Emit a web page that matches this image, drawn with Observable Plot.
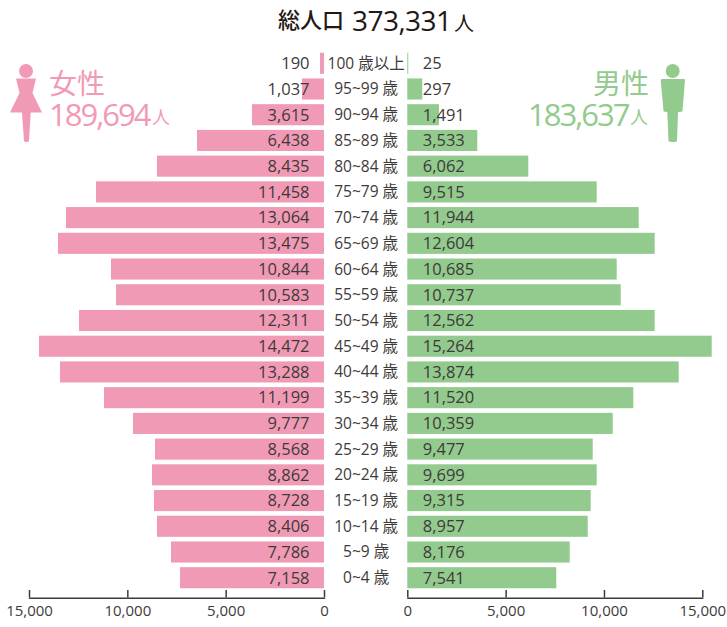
<!DOCTYPE html>
<html lang="ja">
<head>
<meta charset="utf-8">
<script src="https://cdn.jsdelivr.net/npm/d3@7"></script>
<script src="https://cdn.jsdelivr.net/npm/@observablehq/plot@0.6"></script>
<style>
html,body{margin:0;padding:0;background:#fff;}
#wrap{position:relative;width:727px;height:627px;overflow:hidden;font-family:"Open Sans","Noto Sans CJK JP",sans-serif;}
#wrap>svg{position:absolute;left:0;top:0;}
#chart svg{position:absolute;left:0;top:0;}
.t{position:absolute;white-space:nowrap;line-height:1;}
.cjk{font-family:"Noto Sans CJK JP",sans-serif;}
</style>
</head>
<body>
<div id="wrap">
<div id="chart"></div>
<div class="t cjk" style="left:278px;top:7px;color:#231815;font-size:22px;font-weight:500">総人口</div>
<div class="t" style="left:352px;top:6px;color:#231815;font-size:28px;letter-spacing:-.55px">373,331</div>
<div class="t cjk" style="left:454px;top:13px;color:#231815;font-size:20px">人</div>
<div class="t cjk" style="left:49px;top:68px;color:#f19ab5;font-size:28px">女性</div>
<div class="t" style="left:49px;top:99px;color:#f19ab5;font-size:31px;letter-spacing:-2px">189,694</div>
<div class="t cjk" style="left:152px;top:107px;color:#f19ab5;font-size:18px">人</div>
<div class="t cjk" style="left:593px;top:68px;color:#92cb8d;font-size:28px">男性</div>
<div class="t" style="left:528px;top:99px;color:#92cb8d;font-size:31px;letter-spacing:-2px">183,637</div>
<div class="t cjk" style="left:630px;top:107px;color:#92cb8d;font-size:18px">人</div>
<svg width="727" height="627" viewBox="0 0 727 627" style="pointer-events:none">
<circle cx="26" cy="71" r="7" fill="#f19ab5"/>
<path d="M16 78.5 H36 L32.5 93 L42 112.5 H30.7 L29 141 Q28.5 142 26.5 142 Q24.5 142 24 141 L22 112.5 H10 L19.5 93 Z" fill="#f19ab5"/>
<circle cx="672.7" cy="71" r="7" fill="#92cb8d"/>
<path d="M662 79 H684 Q685 79 685 80 L682.5 111 Q682 112 678 112 L677 141 Q676.5 142 672.7 142 Q669 142 668.5 141 L667.3 112 Q664 112 663.5 111 L660.7 80 Q660.7 79 662 79 Z" fill="#92cb8d"/>
</svg>
</div>
<script>
const ages = ["100 歳以上","95~99 歳","90~94 歳","85~89 歳","80~84 歳","75~79 歳","70~74 歳","65~69 歳","60~64 歳","55~59 歳","50~54 歳","45~49 歳","40~44 歳","35~39 歳","30~34 歳","25~29 歳","20~24 歳","15~19 歳","10~14 歳","5~9 歳","0~4 歳"];
// Printed values
const female = [190,1037,3615,6438,8435,11458,13064,13475,10844,10583,12311,14472,13288,11199,9777,8568,8862,8728,8406,7786,7158];
const male = [25,297,1491,3533,6062,9515,11944,12604,10685,10737,12562,15264,13874,11520,10359,9477,9699,9315,8957,8176,7541];
// Bar lengths as drawn in the reference, which differ slightly from the printed values
const femaleBarLength = [203,1118,3661,6458,8492,11593,13118,13525,10830,10576,12458,14491,13424,11186,9712,8593,8746,8644,8492,7780,7322];
const maleBarLength = [50,760,1610,3559,6152,9630,11766,12580,10647,10851,12580,15478,13800,11491,10444,9427,9630,9325,9173,8258,7576];
const axisTicks = [0,5000,10000,15000];
const gap = 4235; // centre gutter, in population units on the shared x scale
const fmt = d3.format(",");
const rows = ages.map((age,i)=>({age,f:female[i],m:male[i],fb:femaleBarLength[i],mb:maleBarLength[i]}));
const pink="#f19ab5", green="#92cb8d", ink="#3e3a39";
const last = ages[ages.length-1];
const sides = [[-1,0],[1,gap]];
const plot = Plot.plot({
  width:727,height:627,
  marginLeft:29,marginRight:24.7,marginTop:48,marginBottom:29.5,
  style:{fontFamily:'"Open Sans","Noto Sans CJK JP",sans-serif',background:"transparent"},
  x:{domain:[-15000,15000+gap],axis:null},
  y:{domain:ages,padding:0.18,axis:null,range:[48.1,592.9],round:false},
  marks:[
    Plot.barX(rows,{y:"age",x1:0,x2:d=>-d.fb,fill:pink}),
    Plot.barX(rows,{y:"age",x1:gap,x2:d=>gap+d.mb,fill:green}),
    Plot.text(rows,{y:"age",x:0,dx:-15,text:d=>fmt(d.f),textAnchor:"end",fill:ink,fontSize:16.5,letterSpacing:"-1px"}),
    Plot.text(rows,{y:"age",x:gap,dx:15,text:d=>fmt(d.m),textAnchor:"start",fill:ink,fontSize:16.5,letterSpacing:"-1px"}),
    Plot.text(rows,{y:"age",x:gap/2,text:"age",fill:ink,fontSize:15.5}),
    ...sides.flatMap(([s,o])=>[
      Plot.ruleX(axisTicks,{x:d=>o+s*d,insetTop:542,stroke:ink,strokeWidth:1.5}),
      Plot.line(d3.extent(axisTicks),{x:d=>o+s*d,y:()=>last,dy:20,stroke:ink,strokeWidth:1.5}),
      Plot.text(axisTicks,{x:d=>o+s*d,text:d=>fmt(d),frameAnchor:"bottom",dy:18,fill:ink,fontSize:15})
    ])
  ]
});
document.getElementById("chart").append(plot);
</script>
</body>
</html>
